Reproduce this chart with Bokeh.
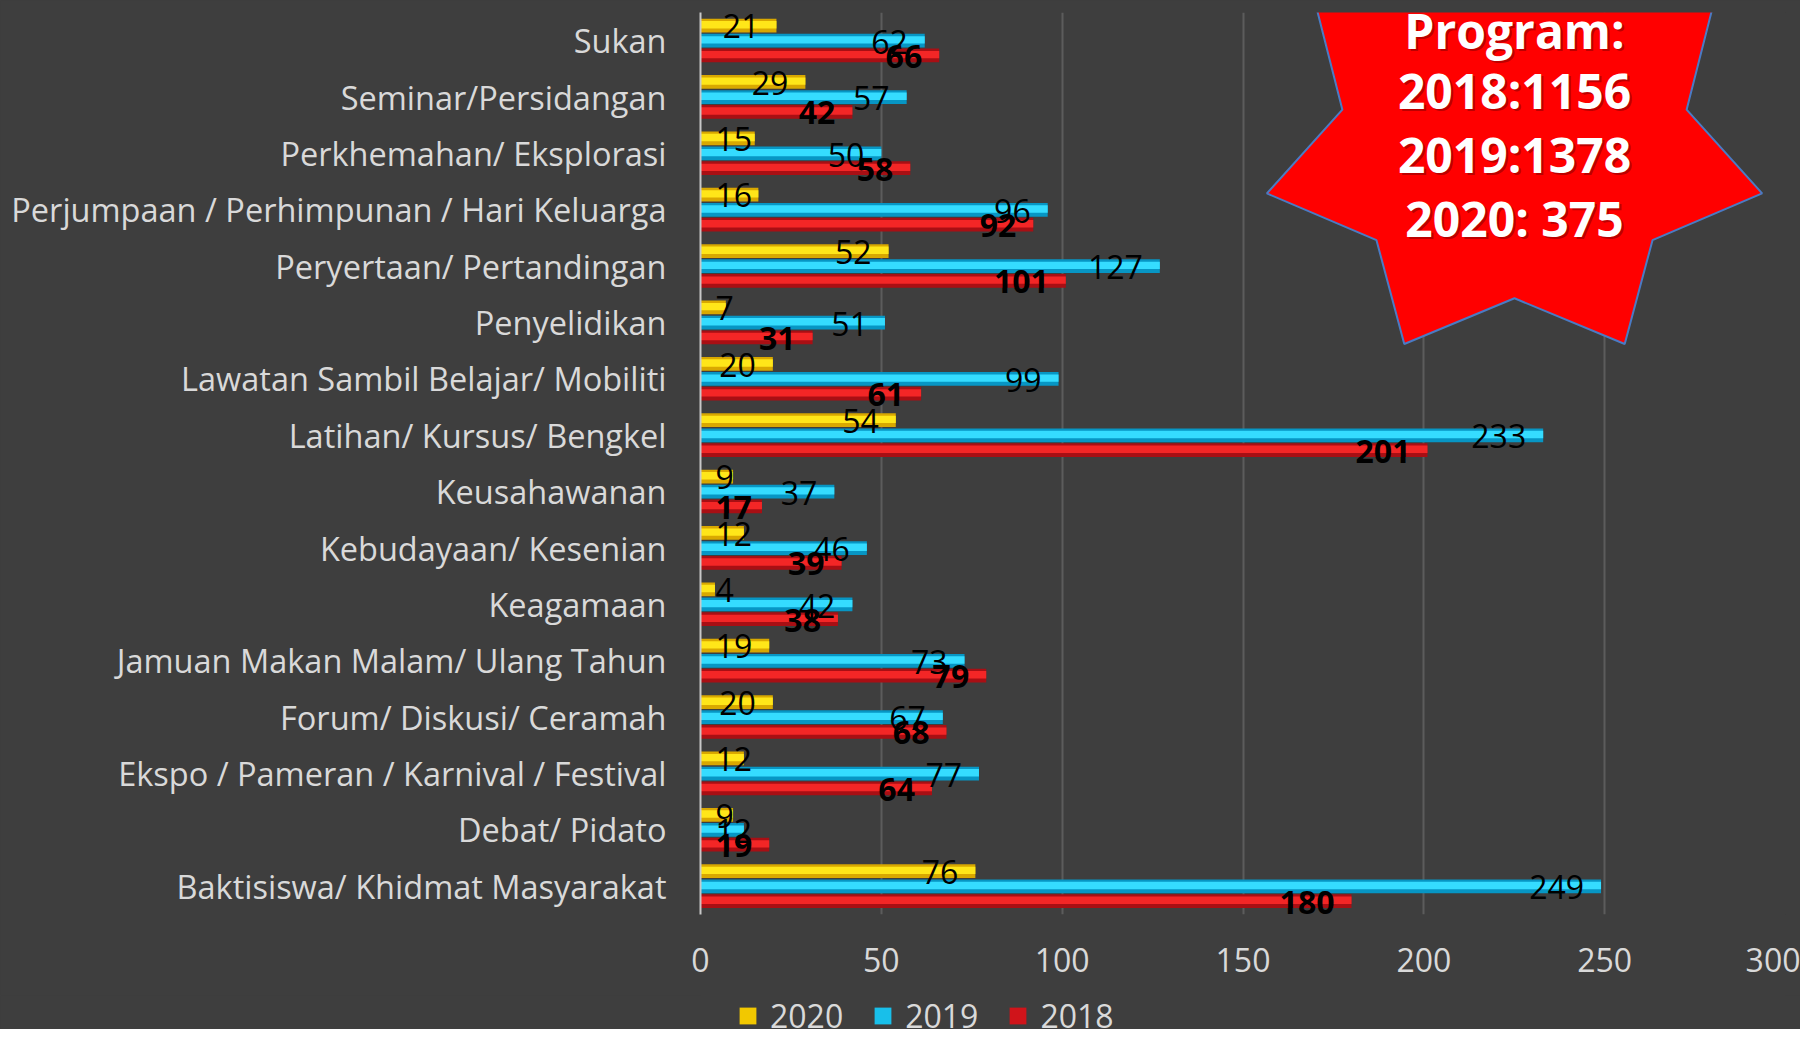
import numpy as np
from bokeh.plotting import figure
from bokeh.layouts import column
from bokeh.models import (FactorRange, Range1d, ColumnDataSource, Legend, LegendItem)
from bokeh.transform import dodge
from bokeh.core.properties import value, field
from bokeh.embed import file_html
from bokeh.resources import INLINE

# ---------------- data ----------------
categories = [
    "Sukan",
    "Seminar/Persidangan",
    "Perkhemahan/ Eksplorasi",
    "Perjumpaan / Perhimpunan / Hari Keluarga",
    "Peryertaan/ Pertandingan",
    "Penyelidikan",
    "Lawatan Sambil Belajar/ Mobiliti",
    "Latihan/ Kursus/ Bengkel",
    "Keusahawanan",
    "Kebudayaan/ Kesenian",
    "Keagamaan",
    "Jamuan Makan Malam/ Ulang Tahun",
    "Forum/ Diskusi/ Ceramah",
    "Ekspo / Pameran / Karnival / Festival",
    "Debat/ Pidato",
    "Baktisiswa/ Khidmat Masyarakat",
]
v2020 = [21, 29, 15, 16, 52, 7, 20, 54, 9, 12, 4, 19, 20, 12, 9, 76]
v2019 = [62, 57, 50, 96, 127, 51, 99, 233, 37, 46, 42, 73, 67, 77, 12, 249]
v2018 = [66, 42, 58, 92, 101, 31, 61, 201, 17, 39, 38, 79, 68, 64, 19, 180]
series_names = ["2020", "2019", "2018"]
x_ticks = [0, 50, 100, 150, 200, 250, 300]
star_lines = ["Program:", "2018:1156", "2019:1378", "2020: 375"]

# ---------------- figure ----------------
W, H_MAIN, H_LEG = 1800, 995, 34
LEFT, RIGHT, TOP, BOTTOM = 700, 15, 12, 81
FW, FH = W - LEFT - RIGHT, H_MAIN - TOP - BOTTOM
XMAX = 300
NCAT = len(categories)
BG = "#3e3e3e"
FONT = "Open Sans"

p = figure(width=W, height=H_MAIN, output_backend="svg", toolbar_location=None,
           y_range=FactorRange(factors=categories[::-1], range_padding=0),
           x_range=Range1d(0, XMAX),
           min_border_left=LEFT, min_border_right=RIGHT,
           min_border_top=TOP, min_border_bottom=BOTTOM)
p.background_fill_color = BG
p.border_fill_color = BG
p.outline_line_color = None

px_per_unit = FW / float(XMAX)


def fx(px):
    """frame pixel x -> data x"""
    return np.asarray(px, dtype=float) / px_per_unit


def fy(py):
    """frame pixel y (from top) -> synthetic categorical y"""
    return (FH - np.asarray(py, dtype=float)) / FH * NCAT


# ---------------- bars ----------------
data = dict(cat=categories, v2020=v2020, v2019=v2019, v2018=v2018)
char_w = 18.3
for name, vals in (("2020", v2020), ("2019", v2019), ("2018", v2018)):
    lx, lo, la = [], [], []
    for v in vals:
        w = len(str(v)) * char_w
        if v * px_per_unit - 17 - w < 15:
            lx.append(0); lo.append(15); la.append("left")
        else:
            lx.append(v); lo.append(-17); la.append("right")
    data["lx" + name] = lx
    data["lo" + name] = lo
    data["la" + name] = la
    data["t" + name] = [str(v) for v in vals]
src = ColumnDataSource(data)

styles = {
    "2020": dict(off=0.268, base="#d9a800", hi="#ffe619", mid="#f2c800",
                 lab_off=0.255, bold=False),
    "2019": dict(off=0.0, base="#0796c4", hi="#35dcff", mid="#18bfea",
                 lab_off=-0.02, bold=False),
    "2018": dict(off=-0.262, base="#a80f14", hi="#f32626", mid="#d0141a",
                 lab_off=-0.28, bold=True),
}
for name in series_names:
    st = styles[name]
    p.hbar(y=dodge("cat", st["off"], range=p.y_range), left=0, right="v" + name,
           height=0.245, fill_color=st["base"], line_color=None, source=src)
    p.hbar(y=dodge("cat", st["off"] + 0.015, range=p.y_range), left=0, right="v" + name,
           height=0.13, fill_color=st["hi"], line_color=None, source=src)

for name in series_names:
    st = styles[name]
    p.text(x="lx" + name, y=dodge("cat", st["lab_off"], range=p.y_range),
           text="t" + name, x_offset=field("lo" + name), text_align=field("la" + name),
           text_baseline="middle", text_font=value(FONT), text_font_size="32px",
           text_font_style="bold" if st["bold"] else "normal",
           text_color="#000000", source=src)

# ---------------- axes / grid ----------------
p.xaxis.ticker = x_ticks
p.xaxis.axis_line_color = None
p.xaxis.major_tick_line_color = None
p.xaxis.minor_tick_line_color = None
p.xaxis.major_tick_out = 0
p.xaxis.major_tick_in = 0
p.xaxis.major_label_standoff = 33
p.xaxis.major_label_text_font = FONT
p.xaxis.major_label_text_font_size = "32px"
p.xaxis.major_label_text_color = "#d9d9d9"

p.yaxis.axis_line_color = "#c8c8c8"
p.yaxis.axis_line_width = 2
p.yaxis.major_tick_line_color = None
p.yaxis.minor_tick_line_color = None
p.yaxis.major_tick_out = 0
p.yaxis.major_tick_in = 0
p.yaxis.major_label_standoff = 34
p.yaxis.major_label_text_font = FONT
p.yaxis.major_label_text_font_size = "32.5px"
p.yaxis.major_label_text_color = "#d9d9d9"

p.xgrid.grid_line_color = "#5c5c5c"
p.xgrid.grid_line_width = 2
p.ygrid.grid_line_color = None

# ---------------- star callout (frame-pixel geometry) ----------------
cx, cy = 814, 131.5
rx_o, ry_o, k_in = 254, 222, 0.695
ang = np.pi / 2 + np.arange(14) * np.pi / 7
rad_x = np.where(np.arange(14) % 2 == 0, rx_o, rx_o * k_in)
rad_y = np.where(np.arange(14) % 2 == 0, ry_o, ry_o * k_in)
sx = cx + rad_x * np.cos(ang)
sy = cy - rad_y * np.sin(ang)
p.patch(list(fx(sx)), list(fy(sy)), fill_color="#ff0000",
        line_color="#4a7bc4", line_width=2)
star_src = ColumnDataSource(dict(x=[float(fx(cx))] * len(star_lines),
                                 y=list(fy([18, 78, 142, 206])),
                                 t=star_lines))
p.text(x="x", y="y", text="t", source=star_src, x_offset=2, y_offset=2,
       text_align="center", text_baseline="middle", text_font=value(FONT),
       text_font_style="bold", text_font_size="48px", text_color="#7a0000",
       text_alpha=0.5)
p.text(x="x", y="y", text="t", source=star_src,
       text_align="center", text_baseline="middle", text_font=value(FONT),
       text_font_style="bold", text_font_size="48px", text_color="#ffffff")

# ---------------- legend strip ----------------
p2 = figure(width=W, height=H_LEG, output_backend="svg", toolbar_location=None,
            x_range=Range1d(0, 1), y_range=Range1d(0, 1),
            x_axis_location=None, y_axis_location=None,
            min_border=0)
p2.background_fill_alpha = 0
p2.border_fill_color = BG
p2.outline_line_color = None
p2.grid.visible = False
items = []
for name in series_names:
    st = styles[name]
    # legend proxies: zero-size bars located outside the strip's x-range
    r = p2.hbar(y=0.5, left="v" + name, right="v" + name, height=0, source=src,
                fill_color=st["mid"], line_color=None)
    items.append(LegendItem(label=name, renderers=[r]))
legend = Legend(items=items, orientation="horizontal",
                location=(37, -8), padding=0, margin=0, spacing=29,
                glyph_width=21, glyph_height=21, label_standoff=12,
                label_text_font=FONT, label_text_font_size="32px",
                label_text_color="#d9d9d9", background_fill_alpha=0,
                border_line_color=None)
p2.add_layout(legend, "center")

layout = column(p, p2, spacing=0, styles={"background-color": BG})
open("out.html", "w").write(file_html(layout, INLINE))
